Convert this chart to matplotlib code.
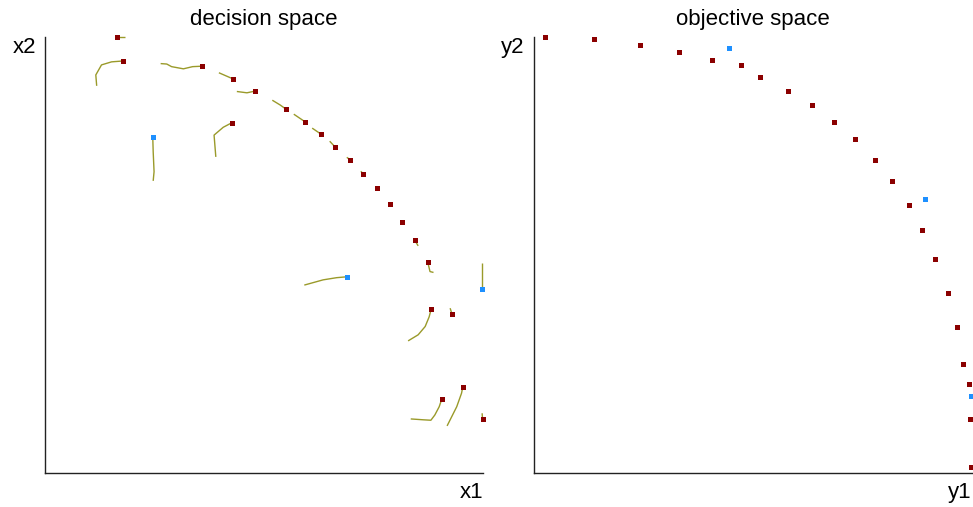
import matplotlib
matplotlib.use("Agg")
import matplotlib.pyplot as plt

plt.rcParams['font.family'] = ['Liberation Sans', 'DejaVu Sans']

# ---------------- decision space ----------------
dec_red_x = [0.164, 0.178, 0.358, 0.429, 0.480, 0.551, 0.593, 0.426, 0.629, 0.663,
             0.696, 0.727, 0.757, 0.788, 0.816, 0.844, 0.874, 0.882, 0.929, 0.954,
             0.906, 0.999]
dec_red_y = [0.999, 0.945, 0.933, 0.904, 0.876, 0.834, 0.806, 0.803, 0.778, 0.747,
             0.719, 0.686, 0.653, 0.617, 0.576, 0.534, 0.483, 0.377, 0.365, 0.198,
             0.170, 0.123]
dec_blue_x = [0.246, 0.689, 0.998]
dec_blue_y = [0.771, 0.450, 0.422]

# trails (polylines ending at the current points)
trail_x = [
    [0.182, 0.164],
    [0.118, 0.116, 0.129, 0.152, 0.178],
    [0.264, 0.278, 0.289, 0.316, 0.337, 0.358],
    [0.397, 0.429],
    [0.438, 0.461, 0.480],
    [0.519, 0.537, 0.551],
    [0.568, 0.593],
    [0.390, 0.386, 0.407, 0.426],
    [0.247, 0.249, 0.247, 0.246],
    [0.610, 0.629],
    [0.650, 0.663],
    [0.689, 0.696],
    [0.721, 0.727],
    [0.820, 0.816],
    [0.852, 0.844],
    [0.887, 0.879, 0.874],
    [0.592, 0.635, 0.666, 0.689],
    [0.998, 0.998],
    [0.829, 0.852, 0.868, 0.877, 0.882],
    [0.925, 0.929],
    [0.918, 0.940, 0.951, 0.954],
    [0.835, 0.864, 0.881, 0.890, 0.900, 0.906],
    [0.998, 0.999],
]
trail_y = [
    [0.999, 0.999],
    [0.888, 0.913, 0.936, 0.943, 0.945],
    [0.939, 0.938, 0.932, 0.927, 0.932, 0.933],
    [0.918, 0.904],
    [0.875, 0.872, 0.876],
    [0.855, 0.844, 0.834],
    [0.823, 0.806],
    [0.725, 0.775, 0.793, 0.803],
    [0.670, 0.691, 0.737, 0.771],
    [0.791, 0.778],
    [0.761, 0.747],
    [0.724, 0.719],
    [0.692, 0.686],
    [0.572, 0.576],
    [0.521, 0.534],
    [0.460, 0.462, 0.483],
    [0.431, 0.443, 0.448, 0.450],
    [0.482, 0.422],
    [0.303, 0.317, 0.336, 0.358, 0.377],
    [0.378, 0.365],
    [0.108, 0.152, 0.183, 0.198],
    [0.124, 0.122, 0.121, 0.133, 0.152, 0.170],
    [0.137, 0.123],
]

# ---------------- objective space ----------------
obj_red_x = [0.027, 0.139, 0.244, 0.333, 0.408, 0.474, 0.516, 0.580, 0.635, 0.687,
             0.734, 0.779, 0.819, 0.857, 0.886, 0.917, 0.946, 0.966, 0.980, 0.995,
             0.997, 0.998]
obj_red_y = [0.999, 0.996, 0.982, 0.966, 0.947, 0.935, 0.908, 0.876, 0.843, 0.806,
             0.765, 0.719, 0.669, 0.615, 0.557, 0.490, 0.412, 0.335, 0.250, 0.203,
             0.123, 0.014]
obj_blue_x = [0.446, 0.893, 0.999]
obj_blue_y = [0.975, 0.628, 0.177]

titles = ["decision space", "objective space"]
xlabels = ["x1", "y1"]
ylabels = ["x2", "y2"]

RED = '#8b0000'
BLUE = '#1e90ff'
TRAIL = '#9a9a2a'

W, H = 973, 507
fig = plt.figure(figsize=(W / 100, H / 100), dpi=100)
ax1 = fig.add_axes([45 / W, (H - 473) / H, 438 / W, 436 / H])
ax2 = fig.add_axes([533.5 / W, (H - 473) / H, 438 / W, 436 / H])

for tx, ty in zip(trail_x, trail_y):
    ax1.plot(tx, ty, color=TRAIL, lw=1.0, solid_capstyle='butt', clip_on=False, zorder=2)

ms = 3.6
ax1.plot(dec_red_x, dec_red_y, 's', color=RED, ms=ms, mew=0, clip_on=False, zorder=3)
ax1.plot(dec_blue_x, dec_blue_y, 's', color=BLUE, ms=ms, mew=0, clip_on=False, zorder=3)
ax2.plot(obj_red_x, obj_red_y, 's', color=RED, ms=ms, mew=0, clip_on=False, zorder=3)
ax2.plot(obj_blue_x, obj_blue_y, 's', color=BLUE, ms=ms, mew=0, clip_on=False, zorder=3)

for ax, t, xl, yl in zip([ax1, ax2], titles, xlabels, ylabels):
    ax.set_xlim(0, 1)
    ax.set_ylim(0, 1)
    for s in ['top', 'right']:
        ax.spines[s].set_visible(False)
    for s in ['left', 'bottom']:
        ax.spines[s].set_color('#222222')
        ax.spines[s].set_linewidth(1.0)
    ax.set_xticks([])
    ax.set_yticks([])
    ax.text(0.5, 1.028, t, transform=ax.transAxes, ha='center', va='baseline', fontsize=16)
    ax.text(-0.021, 0.963, yl, transform=ax.transAxes, ha='right', va='baseline', fontsize=16)
    ax.text(1.0, -0.057, xl, transform=ax.transAxes, ha='right', va='baseline', fontsize=16)

fig.savefig('out.png', dpi=100)
